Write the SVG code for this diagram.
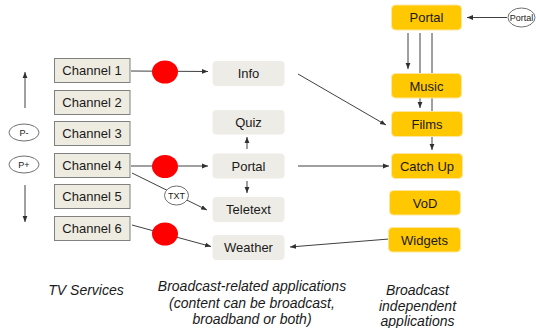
<svg xmlns="http://www.w3.org/2000/svg" width="536" height="328" viewBox="0 0 536 328">
  <style>
    text { font-family: "Liberation Sans", Arial, sans-serif; fill: #1a1a1a; }
    .lbl { font-size: 13px; text-anchor: middle; }
    .cap { font-size: 14px; font-style: italic; text-anchor: middle; }
    .small { font-size: 9px; text-anchor: middle; }
    .chan { fill: #eeece1; stroke: #808080; stroke-width: 1; }
    .app { fill: #eeece6; }
    .ind { fill: #ffc800; stroke: #fde7a0; stroke-width: 1; }
    .dot { fill: #ff0000; }
    .tag { fill: #ffffff; stroke: #707070; stroke-width: 1; }
    .conn line, .conn path { stroke: #404040; stroke-width: 1; fill: none; }
    .arr { marker-end: url(#head); }
  </style>
  <defs>
    <marker id="head" viewBox="0 0 10 10" refX="10" refY="5" markerWidth="6" markerHeight="6" markerUnits="userSpaceOnUse" orient="auto">
      <path d="M0,1 L10,5 L0,9 Z" fill="#303030"/>
    </marker>
  </defs>
  <rect width="536" height="328" fill="#ffffff"/>

  <!-- connectors -->
  <g id="connectors" class="conn">
    <!-- channel zapping arrows -->
    <line class="arr" x1="25" y1="108" x2="25" y2="72"/>
    <line class="arr" x1="25" y1="185" x2="25" y2="222"/>
    <!-- channels to broadcast-related apps -->
    <line class="arr" x1="131" y1="71" x2="208" y2="71.5"/>
    <line class="arr" x1="131" y1="166" x2="208" y2="166"/>
    <line class="arr" x1="132" y1="173" x2="207" y2="210"/>
    <line class="arr" x1="132" y1="225" x2="211" y2="246.5"/>
    <!-- within broadcast-related apps -->
    <line class="arr" x1="247" y1="149" x2="247" y2="137"/>
    <line class="arr" x1="247" y1="181" x2="247" y2="193"/>
    <!-- to broadcast independent apps -->
    <line class="arr" x1="298" y1="74" x2="386" y2="125"/>
    <line class="arr" x1="298" y1="166" x2="389" y2="166"/>
    <line class="arr" x1="389" y1="239" x2="290" y2="247"/>
    <!-- portal fan-out -->
    <line class="arr" x1="507" y1="17.5" x2="467" y2="17.5"/>
    <line class="arr" x1="408" y1="33" x2="408" y2="69"/>
    <line class="arr" x1="420" y1="33" x2="420" y2="108"/>
    <line class="arr" x1="432" y1="33" x2="432" y2="150"/>
  </g>

  <!-- zapping controls -->
  <g id="p-minus">
    <ellipse class="tag" cx="24" cy="132.5" rx="15" ry="8.5"/>
    <text class="small" x="24" y="135.5">P-</text>
  </g>
  <g id="p-plus">
    <ellipse class="tag" cx="24" cy="164.5" rx="15" ry="8.5"/>
    <text class="small" x="24" y="167.5">P+</text>
  </g>

  <!-- TV services -->
  <g id="channel-1"><rect class="chan" x="54.5" y="58.5" width="75.5" height="24"/><text class="lbl" x="92" y="75">Channel 1</text></g>
  <g id="channel-2"><rect class="chan" x="54.5" y="90.5" width="75.5" height="24"/><text class="lbl" x="92" y="107">Channel 2</text></g>
  <g id="channel-3"><rect class="chan" x="54.5" y="121.5" width="75.5" height="24"/><text class="lbl" x="92" y="138">Channel 3</text></g>
  <g id="channel-4"><rect class="chan" x="54.5" y="153.5" width="75.5" height="24"/><text class="lbl" x="92" y="170">Channel 4</text></g>
  <g id="channel-5"><rect class="chan" x="54.5" y="184.5" width="75.5" height="24"/><text class="lbl" x="92" y="201">Channel 5</text></g>
  <g id="channel-6"><rect class="chan" x="54.5" y="216.5" width="75.5" height="24"/><text class="lbl" x="92" y="233">Channel 6</text></g>

  <!-- broadcast triggers -->
  <g id="trigger-1"><ellipse class="dot" cx="165" cy="72" rx="13" ry="11.5"/></g>
  <g id="trigger-4"><ellipse class="dot" cx="165" cy="166.5" rx="13" ry="11.5"/></g>
  <g id="trigger-6"><ellipse class="dot" cx="165" cy="234" rx="13" ry="11.5"/></g>
  <g id="txt">
    <ellipse class="tag" cx="176.5" cy="195.5" rx="12" ry="9.5"/>
    <text class="small" x="176.5" y="198.5">TXT</text>
  </g>

  <!-- broadcast-related applications -->
  <g id="info"><rect class="app" x="212.5" y="61" width="72" height="25" rx="4"/><text class="lbl" x="248.5" y="78">Info</text></g>
  <g id="quiz"><rect class="app" x="212.5" y="110" width="72" height="24.5" rx="4"/><text class="lbl" x="248.5" y="127">Quiz</text></g>
  <g id="portal-app"><rect class="app" x="212.5" y="153.5" width="72" height="25" rx="4"/><text class="lbl" x="248.5" y="170.5">Portal</text></g>
  <g id="teletext"><rect class="app" x="212.5" y="197" width="72" height="25" rx="4"/><text class="lbl" x="248.5" y="214">Teletext</text></g>
  <g id="weather"><rect class="app" x="212.5" y="235" width="72" height="25" rx="4"/><text class="lbl" x="248.5" y="252">Weather</text></g>

  <!-- broadcast independent applications -->
  <g id="portal"><rect class="ind" x="391.5" y="5" width="70" height="25" rx="4"/><text class="lbl" x="426.5" y="22">Portal</text></g>
  <g id="portal-source">
    <ellipse class="tag" cx="521.5" cy="17.5" rx="13.5" ry="9.5"/>
    <text class="small" x="521.5" y="20.5">Portal</text>
  </g>
  <g id="music"><rect class="ind" x="391.5" y="73.5" width="70" height="24.5" rx="4"/><text class="lbl" x="426.5" y="90.5">Music</text></g>
  <g id="films"><rect class="ind" x="391.5" y="111.5" width="71" height="25" rx="4"/><text class="lbl" x="427" y="128.5">Films</text></g>
  <g id="catch-up"><rect class="ind" x="391.5" y="153.5" width="71" height="25" rx="4"/><text class="lbl" x="427" y="170.5">Catch Up</text></g>
  <g id="vod"><rect class="ind" x="389.5" y="190.5" width="71" height="24.5" rx="4"/><text class="lbl" x="425" y="207.5">VoD</text></g>
  <g id="widgets"><rect class="ind" x="388.5" y="227.5" width="72" height="24.5" rx="4"/><text class="lbl" x="424.5" y="244.5">Widgets</text></g>

  <!-- column captions -->
  <g id="captions">
    <text class="cap" x="86" y="295">TV Services</text>
    <text class="cap" x="252" y="291">Broadcast-related applications</text>
    <text class="cap" x="252" y="307.5">(content can be broadcast,</text>
    <text class="cap" x="252" y="324">broadband or both)</text>
    <text class="cap" x="417.5" y="295">Broadcast</text>
    <text class="cap" x="417.5" y="310.5">independent</text>
    <text class="cap" x="417.5" y="326">applications</text>
  </g>
</svg>
